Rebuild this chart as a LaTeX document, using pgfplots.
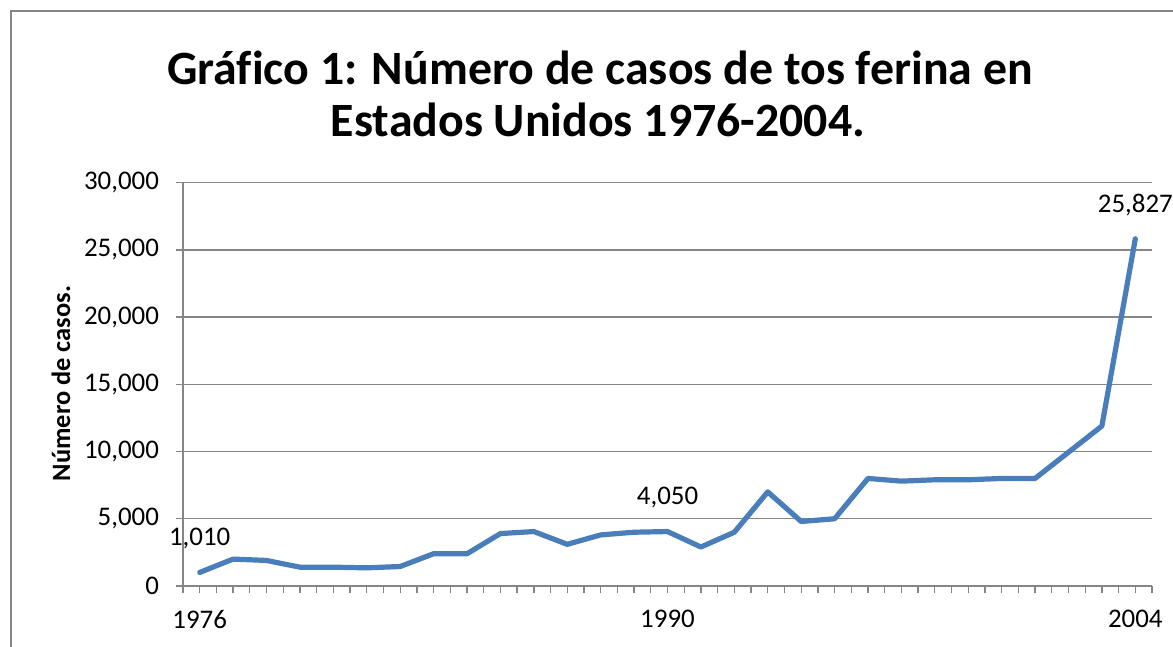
\documentclass[border=0pt]{standalone}
\usepackage{pgfplots}
\pgfplotsset{compat=1.18}
\usepackage{fontspec}
\setmainfont{Carlito}[Ligatures={NoCommon}]
\definecolor{lineblue}{RGB}{74,126,187}
\definecolor{gridgray}{RGB}{134,134,134}
\begin{document}
\begin{tikzpicture}[x=1bp,y=1bp]
\useasboundingbox (0,0) rectangle (1173,647);
\draw[gridgray, line width=1.5bp] (11,0) -- (11,636) -- (1173,636);
\node[anchor=base, font=\fontsize{48}{56}\selectfont\bfseries] at (600,562) {Gráfico 1: Número de casos de tos ferina en};
\node[anchor=base, font=\fontsize{48}{56}\selectfont\bfseries] at (598,510) {Estados Unidos 1976-2004.};
\node[anchor=base, rotate=90, font=\fontsize{26.5}{30}\selectfont\bfseries] at (70,263.5) {Número de casos.};
\begin{axis}[
  at={(183bp,61bp)}, anchor=south west,
  scale only axis, width=969bp, height=403.3bp,
  xmin=-0.5, xmax=28.5, ymin=0, ymax=30000,
  axis x line*=bottom, axis y line*=left,
  axis line style={draw=gridgray, line width=1.3bp, -},
  xtick={-0.5,0,...,28.5},
  xticklabel={\pgfmathparse{int(round(\tick*2))}\ifnum\pgfmathresult=0 1976\else\ifnum\pgfmathresult=28 1990\else\ifnum\pgfmathresult=56 2004\fi\fi\fi},
  ytick={0,5000,...,30000},
  scaled y ticks=false,
  tick align=outside,
  major tick length=7.5bp,
  tick style={draw=gridgray, line width=1.3bp},
  ymajorgrids, grid style={draw=gridgray, line width=1.3bp},
  ticklabel style={font=\fontsize{27}{32}\selectfont},
  xticklabel style={yshift=-13bp},
  yticklabel style={xshift=-13bp},
  /pgf/number format/assume math mode=true,
  /pgf/number format/.cd, 1000 sep={,}, fixed,
  /pgfplots/.cd,
  clip=false,
]
\addplot[lineblue, line width=5.2bp, line join=round, line cap=round, mark=none] coordinates {
(0,1010)(1,2000)(2,1900)(3,1400)(4,1400)(5,1350)(6,1450)(7,2400)(8,2400)(9,3900)
(10,4050)(11,3100)(12,3800)(13,4000)(14,4050)(15,2900)(16,4000)(17,7000)(18,4800)(19,5000)
(20,8000)(21,7800)(22,7900)(23,7900)(24,8000)(25,8000)(26,9950)(27,11900)(28,25827)
};
\addplot[draw=none, mark=none, nodes near coords,
  every node near coord/.append style={anchor=center, yshift=34bp, inner sep=0pt, font=\fontsize{27}{32}\selectfont, text=black}]
  coordinates {(0,1010)(14,4050)(28,25827)};
\end{axis}
\end{tikzpicture}
\end{document}
